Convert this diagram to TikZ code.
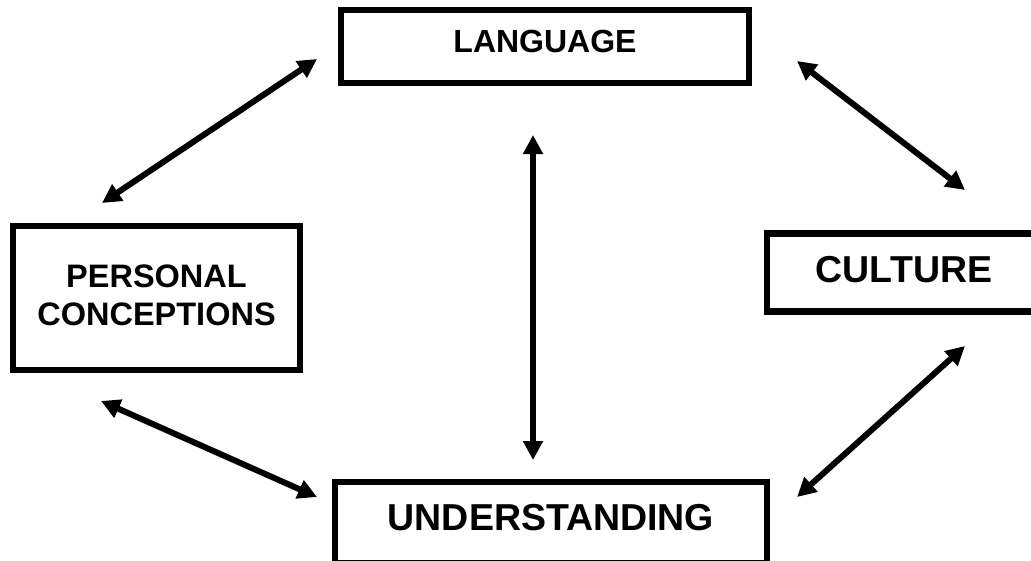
\documentclass[tikz,border=0pt]{standalone}
\usepackage{fontspec}
\setmainfont{Liberation Sans}
\usetikzlibrary{arrows.meta}
\tikzset{
  box/.style={draw=black, line width=6.5pt, rectangle, inner sep=0pt, font=\bfseries},
  arr/.style={line width=6pt, {Triangle[length=19pt,width=19pt]}-{Triangle[length=19pt,width=19pt]}}
}
\begin{document}
\begin{tikzpicture}[x=1pt,y=-1pt]
\useasboundingbox (0,0) rectangle (1031,560);
\clip (0,0) rectangle (1031,560);
\fill[white] (0,0) rectangle (1031,560);
\node[box, minimum width=408pt, minimum height=73pt, text depth=11pt,
      font=\bfseries\fontsize{32}{37}\selectfont] (lang) at (545,46.5) {LANGUAGE};
\node[box, minimum width=287pt, minimum height=144pt, align=center, text depth=6pt,
      font=\bfseries\fontsize{32.5}{38}\selectfont] (pers) at (156.5,298) {PERSONAL\\CONCEPTIONS};
\node[box, minimum width=274pt, minimum height=78pt, text depth=6pt,
      font=\bfseries\fontsize{37.5}{44}\selectfont] (cult) at (904,272.5) {CULTURE};
\node[box, minimum width=432pt, minimum height=81pt, text depth=11pt,
      font=\bfseries\fontsize{37.5}{44}\selectfont] (und) at (551,522.5) {UNDERSTANDING};
\coordinate (a1s) at (317,59);  \coordinate (a1e) at (102,203);
\coordinate (a2s) at (797,61);  \coordinate (a2e) at (965,190);
\coordinate (a3s) at (101,401); \coordinate (a3e) at (317,497);
\coordinate (a4s) at (965,346); \coordinate (a4e) at (797,497);
\coordinate (vs) at (533,135);  \coordinate (ve) at (533,460);
\draw[arr] (a1s) -- (a1e);
\draw[arr] (a2s) -- (a2e);
\draw[arr] (a3s) -- (a3e);
\draw[arr] (a4s) -- (a4e);
\draw[arr] (vs) -- (ve);
\end{tikzpicture}
\end{document}
